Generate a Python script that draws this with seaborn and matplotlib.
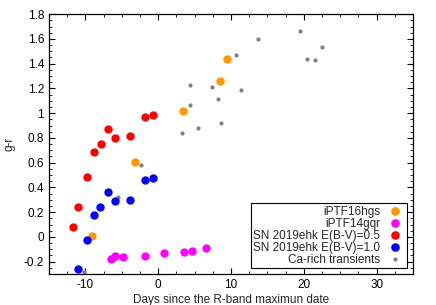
import matplotlib
matplotlib.use("Agg")
import matplotlib.pyplot as plt
import seaborn as sns
import numpy as np
import pandas as pd
from matplotlib.ticker import MultipleLocator
from matplotlib.lines import Line2D

# Data
hgs_x = [-9.16, -3.25, 3.39, 8.47, 9.43]
hgs_y = [0.01, 0.608, 1.02, 1.263, 1.44]

gqr_x = [-6.5, -5.95, -4.85, -1.88, 0.82, 3.6, 4.58, 6.5]
gqr_y = [-0.18, -0.151, -0.159, -0.151, -0.13, -0.122, -0.111, -0.09]

ehk05_x = [-11.77, -11.03, -9.84, -8.88, -7.91, -6.87, -5.91, -3.85, -1.88, -0.78]
ehk05_y = [0.078, 0.245, 0.482, 0.687, 0.748, 0.872, 0.802, 0.813, 0.970, 0.988]

ehk10_x = [-10.99, -9.85, -8.88, -7.93, -6.87, -5.91, -3.89, -1.88, -0.78]
ehk10_y = [-0.262, -0.027, 0.178, 0.24, 0.363, 0.293, 0.301, 0.46, 0.479]

ca_x = [-10.2, -5.5, -2.43, 3.30, 4.40, 4.40, 5.49, 7.32, 8.24, 8.56, 10.67, 11.31, 13.69, 19.5, 20.47, 21.57, 22.43]
ca_y = [-0.28, 0.323, 0.582, 0.84, 1.231, 1.069, 0.883, 1.209, 1.112, 0.921, 1.471, 1.19, 1.602, 1.661, 1.441, 1.433, 1.532]

labels = ["iPTF16hgs", "iPTF14gqr", "SN 2019ehk E(B-V)=0.5", "SN 2019ehk E(B-V)=1.0", "Ca-rich transients"]
colors = ["#ff9900", "#ff00ff", "#ff0000", "#0000ff", "#808080"]

sns.set_style("ticks")
plt.rcParams['font.family'] = ['Liberation Sans', 'DejaVu Sans']
FS = 8.5

fig = plt.figure(figsize=(4.36, 3.05), dpi=100)
ax = fig.add_axes([0.1124, 0.1016, 0.835, 0.852])

series = [(hgs_x, hgs_y), (gqr_x, gqr_y), (ehk05_x, ehk05_y), (ehk10_x, ehk10_y)]
# gray first (behind)
sns.scatterplot(x=ca_x, y=ca_y, ax=ax, color=colors[4], s=9, linewidth=0, zorder=2)
for (xs, ys), c in zip(series, colors[:4]):
    sns.scatterplot(x=xs, y=ys, ax=ax, color=c, s=36, linewidth=0, zorder=3)

hl = [Line2D([], [], marker='o', linestyle='none', color=colors[i],
             markersize=6.2 if i < 4 else 3, markeredgewidth=0) for i in range(5)]

ax.set_xlim(-15, 35)
ax.set_ylim(-0.3, 1.8)
ax.xaxis.set_major_locator(MultipleLocator(10))
ax.xaxis.set_minor_locator(MultipleLocator(2.5))
ax.yaxis.set_major_locator(MultipleLocator(0.2))
ax.yaxis.set_minor_locator(MultipleLocator(0.05))
ax.yaxis.set_major_formatter(matplotlib.ticker.FuncFormatter(
    lambda v, p: ('%g' % round(v, 2)) if abs(v) > 1e-9 else '0'))
ax.xaxis.set_major_formatter(matplotlib.ticker.FuncFormatter(
    lambda v, p: ('%g' % round(v, 2)) if abs(v) > 1e-9 else '0'))
ax.tick_params(which='both', direction='in', top=True, right=True, labelsize=FS, colors='black')
ax.tick_params(which='major', length=4, width=0.8)
ax.tick_params(which='minor', length=2, width=0.6)
for sp in ax.spines.values():
    sp.set_linewidth(0.9)
    sp.set_color('black')

ax.set_xlabel("Days since the R-band maximun date", fontsize=FS, labelpad=2)
ax.set_ylabel("g-r", fontsize=FS, labelpad=6)

leg = ax.legend(hl, labels, loc='lower right', fontsize=FS, markerfirst=False,
                frameon=True, fancybox=False, framealpha=1, edgecolor='black',
                handlelength=1.6, handletextpad=0.5, labelspacing=0.0,
                borderpad=0.2, borderaxespad=0.5)
leg.get_frame().set_linewidth(0.8)

fig.savefig("out.png", dpi=100)
